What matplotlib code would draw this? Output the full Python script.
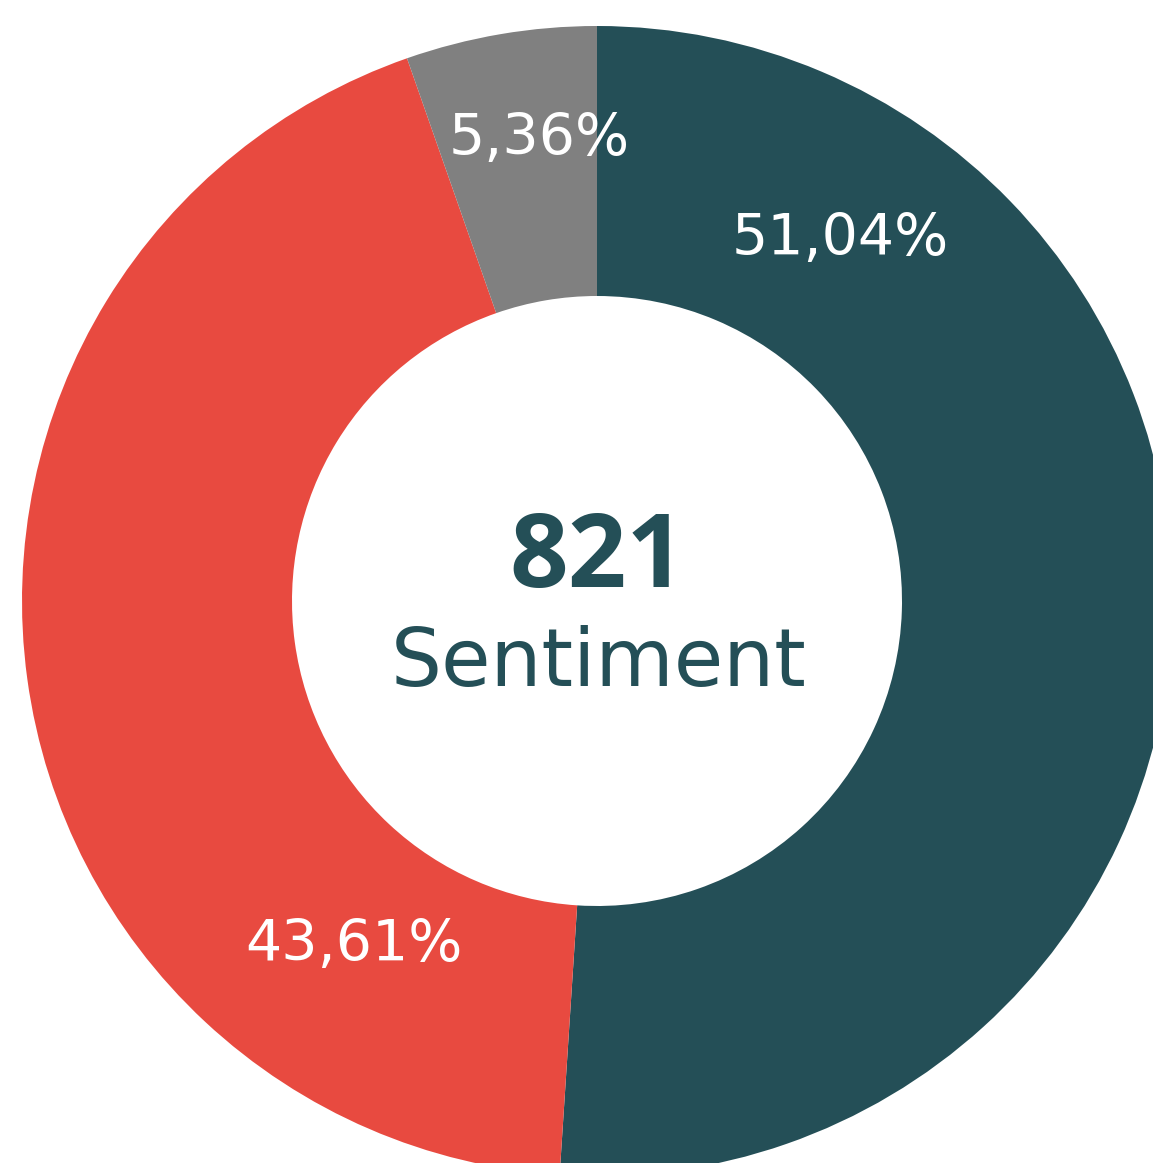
import matplotlib
matplotlib.use("Agg")
import matplotlib.pyplot as plt

# sentiment shares, clockwise from 12 o'clock
labels = ["51,04%", "43,61%", "5,36%"]
shares = [51.04, 43.61, 5.36]
colors = ["#244F57", "#E84A40", "#808080"]
total = "821"
title = "Sentiment"

W, H = 1153, 1163
fig = plt.figure(figsize=(W / 100, H / 100), dpi=100)
ax = fig.add_axes([0, 0, 1, 1])

cx, cy = 597, H - 601
r_out, r_in = 575, 305

ax.pie(shares, colors=colors, startangle=90, counterclock=False,
       center=(cx, cy), radius=r_out, frame=True,
       wedgeprops=dict(width=r_out - r_in, linewidth=0))
ax.set_xlim(0, W)
ax.set_ylim(0, H)
ax.set_aspect("equal")
ax.axis("off")

# label positions (pixels in the picture)
label_pos = [(840, 240), (354, 945), (539, 140)]
for txt, (x, y) in zip(labels, label_pos):
    ax.text(x, H - y, txt, color="white", fontsize=41, family="DejaVu Sans",
            ha="center", va="center")

ax.text(cx, H - 560, total, color="#244F57", fontsize=74, fontweight="bold",
        family="Open Sans", ha="center", va="center")
ax.text(cx + 2, H - 664, title, color="#244F57", fontsize=58,
        family="DejaVu Sans", ha="center", va="center")

fig.savefig("out.png", dpi=100)
